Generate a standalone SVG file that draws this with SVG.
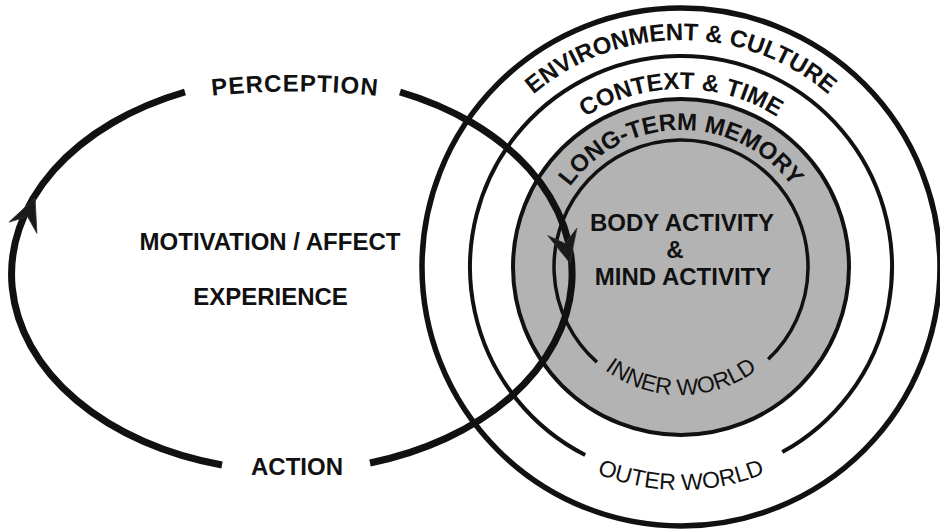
<svg xmlns="http://www.w3.org/2000/svg" width="940" height="532" viewBox="0 0 940 532">
  <style>
    .ring { fill: none; stroke: #111; }
    .loop { fill: none; stroke: #111; stroke-width: 7; stroke-linecap: butt; }
    .bold { font-family: "Liberation Sans", Arial, sans-serif; font-weight: bold; fill: #111; }
    .reg { font-family: "Liberation Sans", Arial, sans-serif; font-weight: normal; fill: #111; }
    .arrow { fill: #1a1a1a; stroke: #333; stroke-width: 0.8; }
  </style>
  <defs>
    <path id="pEnv" d="M 454 267 A 227 227 0 0 1 908 267"/>
    <path id="pCtx" d="M 503 267 A 178 178 0 0 1 859 267"/>
    <path id="pMem" d="M 544 267 A 137 137 0 0 1 818 267"/>
    <path id="pInner" d="M 553 267 A 128 128 0 0 0 809 267"/>
    <path id="pOuter" d="M 458 267 A 223 223 0 0 0 904 267"/>
    <path id="pPerc" d="M 180 100 A 785 785 0 0 1 410 100"/>
    <polygon id="arrowHead" points="0,0 -32,-15 -20,0 -32,15"/>
  </defs>
  <rect width="940" height="532" fill="#ffffff"/>

  <g id="environment-culture">
    <circle class="ring" cx="681" cy="267" r="259" stroke-width="5.5"/>
    <text class="bold" font-size="24"><textPath href="#pEnv" startOffset="50%" text-anchor="middle">ENVIRONMENT &amp; CULTURE</textPath></text>
  </g>

  <g id="context-time">
    <path class="ring" stroke-width="4" d="M 782.3 452.1 A 211 211 0 1 0 585.2 455"/>
    <text class="bold" font-size="24"><textPath href="#pCtx" startOffset="50%" text-anchor="middle">CONTEXT &amp; TIME</textPath></text>
    <text class="reg" font-size="23"><textPath href="#pOuter" startOffset="50%" text-anchor="middle">OUTER WORLD</textPath></text>
  </g>

  <g id="long-term-memory">
    <circle cx="681" cy="267" r="168" fill="#b3b3b3" stroke="#111" stroke-width="4"/>
    <text class="bold" font-size="24"><textPath href="#pMem" startOffset="50%" text-anchor="middle">LONG-TERM MEMORY</textPath></text>
  </g>

  <g id="inner-world">
    <path class="ring" stroke-width="3.5" d="M 768.2 359.3 A 127 127 0 1 0 596.9 362.1"/>
    <text class="reg" font-size="23"><textPath href="#pInner" startOffset="50%" text-anchor="middle">INNER WORLD</textPath></text>
    <text class="bold" font-size="24" x="682" y="231" text-anchor="middle">BODY ACTIVITY</text>
    <text class="bold" font-size="24" x="675" y="258" text-anchor="middle">&amp;</text>
    <text class="bold" font-size="24" x="683" y="285" text-anchor="middle">MIND ACTIVITY</text>
  </g>

  <g id="center-labels">
    <text class="bold" font-size="24" x="270" y="250" text-anchor="middle">MOTIVATION / AFFECT</text>
    <text class="bold" font-size="24" x="270.5" y="305" text-anchor="middle">EXPERIENCE</text>
  </g>

  <g id="connectors">
    <path class="loop" d="M 400 92 A 280 197 0 0 1 370 463"/>
    <path class="loop" d="M 222 465 A 280 197 0 0 1 185 92"/>
    <use href="#arrowHead" class="arrow" transform="translate(35 198) rotate(-68)"/>
    <use href="#arrowHead" class="arrow" transform="translate(570 263) rotate(76)"/>
  </g>

  <g id="perception">
    <text class="bold" font-size="24" letter-spacing="1"><textPath href="#pPerc" startOffset="50%" text-anchor="middle">PERCEPTION</textPath></text>
  </g>

  <g id="action">
    <text class="bold" font-size="24" x="297" y="475" text-anchor="middle">ACTION</text>
  </g>
</svg>
